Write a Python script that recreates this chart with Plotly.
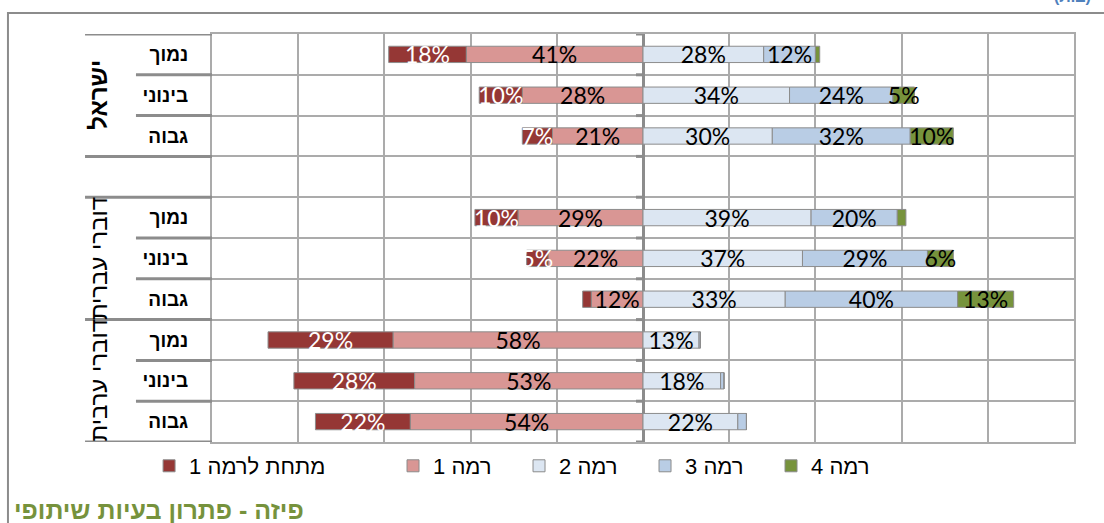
import plotly.graph_objects as go

# Population groups (outer axis) and performance tiers (inner axis)
groups = ["ישראל", "דוברי עברית", "דוברי ערבית"]
tiers = ["נמוך", "בינוני", "גבוה"]

# Share of students (%) at each proficiency level, rows ordered group by group
below_1 = [18, 10, 7, 10, 5, 2, 29, 28, 22]
level_1 = [41, 28, 21, 29, 22, 12, 58, 53, 54]
level_2 = [28, 34, 30, 39, 37, 33, 13, 18, 22]
level_3 = [12, 24, 32, 20, 29, 40, 0.3, 0.8, 2]
level_4 = [1, 5, 10, 2, 6, 13, 0, 0, 0]

series_names = ["מתחת לרמה 1", "רמה 1", "רמה 2", "רמה 3", "רמה 4"]
title_text = "פיזה - פתרון בעיות שיתופי"

colors = ["#953735", "#D99694", "#DCE6F2", "#B9CDE5", "#77933C"]
edge = "#8C8C8C"
grid = "#ABABAB"

# Row positions: an empty spacer row separates the first group from the rest
rows, row_text, group_rows = [], [], []
pos = 0
for gi, g in enumerate(groups):
    if gi == 1:
        pos += 1
    members = []
    for t in tiers:
        rows.append(pos)
        row_text.append(t)
        members.append(pos)
        pos += 1
    group_rows.append(members)
n_rows = pos


def labels(vals):
    return [f"{v:.0f}%" if v >= 3 else "" for v in vals]


fig = go.Figure()

# Left side (negative): level 1 next to the axis, below level 1 further out
left_series = [(1, level_1, "black"), (0, below_1, "white")]
for idx, vals, tcolor in left_series:
    fig.add_trace(go.Bar(
        y=rows, x=[-v for v in vals], orientation="h",
        name=series_names[idx], text=labels(vals),
        marker=dict(color=colors[idx], line=dict(color=edge, width=1)),
        textposition="inside", insidetextanchor="middle", textangle=0,
        constraintext="none", cliponaxis=False,
        textfont=dict(family="Lato", size=23, color=tcolor),
        legend="legend" if idx == 0 else "legend2",
        legendrank=idx, hoverinfo="skip",
    ))

# Right side (positive): levels 2-4
for idx, vals in [(2, level_2), (3, level_3), (4, level_4)]:
    fig.add_trace(go.Bar(
        y=rows, x=vals, orientation="h",
        name=series_names[idx], text=labels(vals),
        marker=dict(color=colors[idx], line=dict(color=edge, width=1)),
        textposition="inside", insidetextanchor="middle", textangle=0,
        constraintext="none", cliponaxis=False,
        textfont=dict(family="Lato", size=23, color="black"),
        legend="legend2", legendrank=idx, hoverinfo="skip",
    ))

boundaries = [b - 0.5 for b in range(n_rows + 1)]
shapes = []
# Divider lines beside the row labels: full width at group edges, short inside groups
group_edges = set()
for members in group_rows:
    group_edges.add(members[0] - 0.5)
    group_edges.add(members[-1] + 0.5)
for b in boundaries:
    x0 = -0.1473 if b in group_edges else -0.0882
    shapes.append(dict(type="line", xref="paper", yref="y", x0=x0, x1=0,
                       y0=b, y1=b, line=dict(color=edge, width=3)))
    # small tick marks on the zero axis
    shapes.append(dict(type="line", xref="x", yref="y", xsizemode="pixel",
                       xanchor=0, x0=-7, x1=0, y0=b, y1=b,
                       line=dict(color=edge, width=3)))
# Outer frame of the chart
shapes.append(dict(type="rect", xref="paper", yref="paper",
                   x0=-0.2367, x1=1.04, y0=-0.21, y1=1.0515,
                   line=dict(color=edge, width=2), layer="below"))

annotations = []
for gi, (g, members) in enumerate(zip(groups, group_rows)):
    center = (members[0] + members[-1]) / 2
    annotations.append(dict(
        xref="paper", yref="y", x=-0.1315, y=center, text=g,
        textangle=-90, showarrow=False, xanchor="center", yanchor="middle",
        font=dict(family="Liberation Sans", size=24, color="black",
                  weight="bold" if gi == 0 else "normal"),
    ))
annotations.append(dict(
    xref="paper", yref="paper", x=-0.232, y=-0.1667, text=title_text,
    showarrow=False, xanchor="left", yanchor="middle",
    font=dict(family="Liberation Sans", size=25, color="#76923C", weight="bold"),
))
annotations.append(dict(
    xref="paper", yref="paper", x=0.975, y=1.065, text="(ב.ת)",
    showarrow=False, xanchor="left", yanchor="bottom",
    font=dict(family="Liberation Sans", size=16, color="#4F81BD", weight="bold"),
))

legend_font = dict(family="Liberation Sans", size=22, color="black")
fig.update_layout(
    width=1104, height=523,
    margin=dict(l=212, r=30, t=34, b=81),
    paper_bgcolor="white", plot_bgcolor="white",
    barmode="relative", bargap=0.6,
    showlegend=True,
    legend=dict(orientation="h", x=-0.073, y=-0.0588, xanchor="left",
                yanchor="middle", font=legend_font, bgcolor="rgba(0,0,0,0)"),
    legend2=dict(orientation="h", x=0.2100, y=-0.0588, xanchor="left",
                 yanchor="middle", font=legend_font, entrywidth=81,
                 bgcolor="rgba(0,0,0,0)", traceorder="normal"),
    xaxis=dict(range=[-100, 100], dtick=20, showticklabels=False,
               showgrid=True, gridcolor=grid, gridwidth=2,
               zeroline=True, zerolinecolor="#8C8C8C", zerolinewidth=3,
               showline=True, mirror=True, linecolor=grid, linewidth=2,
               fixedrange=True),
    yaxis=dict(range=[n_rows - 0.5, -0.5], tickmode="array",
               tickvals=rows, ticktext=row_text, ticks="",
               tickfont=dict(family="Liberation Sans", size=19, color="black",
                             weight="bold"),
               ticklabelstandoff=18, showgrid=False, zeroline=False,
               minor=dict(tickmode="array", tickvals=boundaries, showgrid=True,
                          gridcolor=grid, gridwidth=2, ticks=""),
               showline=True, mirror=True, linecolor=grid, linewidth=2,
               fixedrange=True),
    shapes=shapes,
    annotations=annotations,
)

fig.write_html("out.html")
